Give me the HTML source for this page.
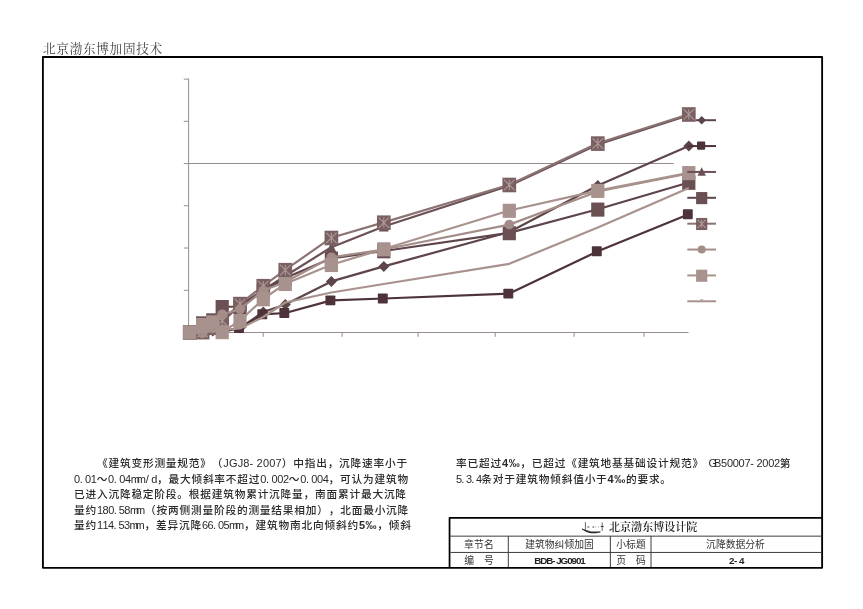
<!DOCTYPE html>
<html lang="zh-CN">
<head>
<meta charset="utf-8">
<title>沉降数据分析</title>
<style>
html,body{margin:0;padding:0;background:#fff;}
.hdr,.ln,.org,.cell{will-change:transform;}
body{width:863px;height:609px;position:relative;overflow:hidden;font-family:"Liberation Sans","Noto Sans CJK SC",sans-serif;color:#222;}
.hdr{position:absolute;left:43.4px;top:40.4px;font-family:"Liberation Serif","Noto Serif CJK SC",serif;font-size:12.6px;line-height:18px;color:#444;letter-spacing:0.72px;white-space:nowrap;}
svg.chart{position:absolute;left:0;top:0;}
.ln{position:absolute;text-spacing-trim:space-all;font-kerning:none;height:16px;line-height:16px;font-size:11px;white-space:nowrap;color:#2a2a2a;}
.ln .cj{font-size:10.7px;letter-spacing:0.79px;font-weight:500;}
.ln .la{font-size:11px;}
.ln .mm{letter-spacing:-3.2px;margin-right:3.2px;}
.ln .gb{letter-spacing:-3px;margin-left:4.5px;}
.ln b{letter-spacing:0.6px;}
.tbl{position:absolute;left:450.4px;top:518.85px;width:371px;height:48px;}
.cell{position:absolute;font-size:9.8px;line-height:14px;height:14px;text-align:center;white-space:nowrap;color:#333;}
.org{position:absolute;left:158.5px;top:1.5px;font-family:"Liberation Serif","Noto Serif CJK SC",serif;font-size:11.05px;line-height:15px;color:#222;font-weight:600;white-space:nowrap;}
</style>
</head>
<body>
<div class="hdr">北京渤东博加固技术</div>
<svg class="chart" width="863" height="609" viewBox="0 0 863 609">
<g stroke="#978d8f" stroke-width="1" fill="none">
<path d="M188.6 78.6V332.5"/>
<path d="M183.8 79.1H188.7"/>
<path d="M183.8 121.33H188.7"/>
<path d="M183.8 163.56H188.7"/>
<path d="M183.8 205.79H188.7"/>
<path d="M183.8 248.02H188.7"/>
<path d="M183.8 290.25H188.7"/>
<path d="M183.8 332.48H188.7"/>
<path d="M188.2 332.5H688.5"/>
<path d="M263.2 332.5V336.8"/>
<path d="M342.1 332.5V336.8"/>
<path d="M418.1 332.5V336.8"/>
<path d="M495.2 332.5V336.8"/>
<path d="M574.1 332.5V336.8"/>
<path d="M644 332.5V336.8"/>
</g>
<path d="M188.7 163.5H673.7" stroke="#958a8c" stroke-width="1" fill="none"/>
<g><polyline points="189.65,332.35 202.6,332.5 212.8,331 222.2,332 240,328 263.3,312 285.3,304.5 331.4,281.4 383.8,266.4 509.3,232 597.8,185.5 688.8,145.9" fill="none" stroke="#5e454a" stroke-width="2.2" stroke-linejoin="round"/><path d="M189.65 326.85L195.15 332.35L189.65 337.85L184.15 332.35Z" fill="#5e454a"/><path d="M202.6 327L208.1 332.5L202.6 338L197.1 332.5Z" fill="#5e454a"/><path d="M212.8 325.5L218.3 331L212.8 336.5L207.3 331Z" fill="#5e454a"/><path d="M222.2 326.5L227.7 332L222.2 337.5L216.7 332Z" fill="#5e454a"/><path d="M240 322.5L245.5 328L240 333.5L234.5 328Z" fill="#5e454a"/><path d="M263.3 306.5L268.8 312L263.3 317.5L257.8 312Z" fill="#5e454a"/><path d="M285.3 299L290.8 304.5L285.3 310L279.8 304.5Z" fill="#5e454a"/><path d="M331.4 275.9L336.9 281.4L331.4 286.9L325.9 281.4Z" fill="#5e454a"/><path d="M383.8 260.9L389.3 266.4L383.8 271.9L378.3 266.4Z" fill="#5e454a"/><path d="M509.3 226.5L514.8 232L509.3 237.5L503.8 232Z" fill="#5e454a"/><path d="M597.8 180L603.3 185.5L597.8 191L592.3 185.5Z" fill="#5e454a"/><path d="M688.8 140.4L694.3 145.9L688.8 151.4L683.3 145.9Z" fill="#5e454a"/></g>
<g><polyline points="189.65,332.35 202.6,332 212.8,329.5 222.2,331 240,328 263.3,314.3 285.3,313 331.4,300.4 383.8,298.5 509.3,293.6 597.8,251.3 688.8,214.2" fill="none" stroke="#4d3339" stroke-width="2.2" stroke-linejoin="round"/><rect x="183.7" y="327.4" width="9.9" height="9.9" rx="0.8" fill="#4d3339"/><rect x="196.65" y="327.05" width="9.9" height="9.9" rx="0.8" fill="#4d3339"/><rect x="206.85" y="324.55" width="9.9" height="9.9" rx="0.8" fill="#4d3339"/><rect x="216.25" y="326.05" width="9.9" height="9.9" rx="0.8" fill="#4d3339"/><rect x="234.05" y="323.05" width="9.9" height="9.9" rx="0.8" fill="#4d3339"/><rect x="257.35" y="309.35" width="9.9" height="9.9" rx="0.8" fill="#4d3339"/><rect x="279.35" y="308.05" width="9.9" height="9.9" rx="0.8" fill="#4d3339"/><rect x="325.45" y="295.45" width="9.9" height="9.9" rx="0.8" fill="#4d3339"/><rect x="377.85" y="293.55" width="9.9" height="9.9" rx="0.8" fill="#4d3339"/><rect x="503.35" y="288.65" width="9.9" height="9.9" rx="0.8" fill="#4d3339"/><rect x="591.85" y="246.35" width="9.9" height="9.9" rx="0.8" fill="#4d3339"/><rect x="682.85" y="209.25" width="9.9" height="9.9" rx="0.8" fill="#4d3339"/></g>
<g><polyline points="189.65,332.35 202.6,328 212.8,324 222.2,322 240,305 263.3,290 285.3,276 331.4,247.2 383.8,226.5 509.3,185.8 597.8,144.4 688.8,115.3" fill="none" stroke="#6b5055" stroke-width="2.2" stroke-linejoin="round"/><path d="M189.65 327.35L194.65 337.35L184.65 337.35Z" fill="#6b5055"/><path d="M202.6 323L207.6 333L197.6 333Z" fill="#6b5055"/><path d="M212.8 319L217.8 329L207.8 329Z" fill="#6b5055"/><path d="M222.2 317L227.2 327L217.2 327Z" fill="#6b5055"/><path d="M240 300L245 310L235 310Z" fill="#6b5055"/><path d="M263.3 285L268.3 295L258.3 295Z" fill="#6b5055"/><path d="M285.3 271L290.3 281L280.3 281Z" fill="#6b5055"/><path d="M331.4 242.2L336.4 252.2L326.4 252.2Z" fill="#6b5055"/><path d="M383.8 221.5L388.8 231.5L378.8 231.5Z" fill="#6b5055"/><path d="M509.3 180.8L514.3 190.8L504.3 190.8Z" fill="#6b5055"/><path d="M597.8 139.4L602.8 149.4L592.8 149.4Z" fill="#6b5055"/><path d="M688.8 110.3L693.8 120.3L683.8 120.3Z" fill="#6b5055"/></g>
<g><polyline points="189.65,332.35 202.6,323.05 212.8,320.05 222.2,306.75 240,306.75 263.3,291 285.3,278 331.4,258.3 383.8,251 509.3,232.9 597.8,209.3 688.8,182.5" fill="none" stroke="#5e454a" stroke-width="2.2" stroke-linejoin="round"/><rect x="183.05" y="325.6" width="13.2" height="14.1" fill="#6a4f53"/><rect x="196" y="316.3" width="13.2" height="14.1" fill="#6a4f53"/><rect x="206.2" y="313.3" width="13.2" height="14.1" fill="#6a4f53"/><rect x="215.6" y="300" width="13.2" height="14.1" fill="#6a4f53"/><rect x="233.4" y="300" width="13.2" height="14.1" fill="#6a4f53"/><rect x="256.7" y="284.25" width="13.2" height="14.1" fill="#6a4f53"/><rect x="278.7" y="271.25" width="13.2" height="14.1" fill="#6a4f53"/><rect x="324.8" y="251.55" width="13.2" height="14.1" fill="#6a4f53"/><rect x="377.2" y="244.25" width="13.2" height="14.1" fill="#6a4f53"/><rect x="502.7" y="226.15" width="13.2" height="14.1" fill="#6a4f53"/><rect x="591.2" y="202.55" width="13.2" height="14.1" fill="#6a4f53"/><rect x="682.2" y="175.75" width="13.2" height="14.1" fill="#6a4f53"/></g>
<g><polyline points="189.65,332.35 202.6,331.85 212.8,327.45 222.2,320.5 240,303.8 263.3,285.9 285.3,269.9 331.4,237.7 383.8,222.4 509.3,184.7 597.8,143.3 688.8,114.2" fill="none" stroke="#8b7373" stroke-width="2.2" stroke-linejoin="round"/><rect x="182.8" y="325.35" width="13.7" height="14.6" fill="#7a5f63"/><path d="M184.45 327.35L194.85 337.75M194.85 327.35L184.45 337.75M189.65 327.35L189.65 337.75" stroke="#ad9a96" stroke-width="1.1" fill="none"/><rect x="195.75" y="324.85" width="13.7" height="14.6" fill="#7a5f63"/><path d="M197.4 326.85L207.8 337.25M207.8 326.85L197.4 337.25M202.6 326.85L202.6 337.25" stroke="#ad9a96" stroke-width="1.1" fill="none"/><rect x="205.95" y="320.45" width="13.7" height="14.6" fill="#7a5f63"/><path d="M207.6 322.45L218 332.85M218 322.45L207.6 332.85M212.8 322.45L212.8 332.85" stroke="#ad9a96" stroke-width="1.1" fill="none"/><rect x="215.35" y="313.5" width="13.7" height="14.6" fill="#7a5f63"/><path d="M217 315.5L227.4 325.9M227.4 315.5L217 325.9M222.2 315.5L222.2 325.9" stroke="#ad9a96" stroke-width="1.1" fill="none"/><rect x="233.15" y="296.8" width="13.7" height="14.6" fill="#7a5f63"/><path d="M234.8 298.8L245.2 309.2M245.2 298.8L234.8 309.2M240 298.8L240 309.2" stroke="#ad9a96" stroke-width="1.1" fill="none"/><rect x="256.45" y="278.9" width="13.7" height="14.6" fill="#7a5f63"/><path d="M258.1 280.9L268.5 291.3M268.5 280.9L258.1 291.3M263.3 280.9L263.3 291.3" stroke="#ad9a96" stroke-width="1.1" fill="none"/><rect x="278.45" y="262.9" width="13.7" height="14.6" fill="#7a5f63"/><path d="M280.1 264.9L290.5 275.3M290.5 264.9L280.1 275.3M285.3 264.9L285.3 275.3" stroke="#ad9a96" stroke-width="1.1" fill="none"/><rect x="324.55" y="230.7" width="13.7" height="14.6" fill="#7a5f63"/><path d="M326.2 232.7L336.6 243.1M336.6 232.7L326.2 243.1M331.4 232.7L331.4 243.1" stroke="#ad9a96" stroke-width="1.1" fill="none"/><rect x="376.95" y="215.4" width="13.7" height="14.6" fill="#7a5f63"/><path d="M378.6 217.4L389 227.8M389 217.4L378.6 227.8M383.8 217.4L383.8 227.8" stroke="#ad9a96" stroke-width="1.1" fill="none"/><rect x="502.45" y="177.7" width="13.7" height="14.6" fill="#7a5f63"/><path d="M504.1 179.7L514.5 190.1M514.5 179.7L504.1 190.1M509.3 179.7L509.3 190.1" stroke="#ad9a96" stroke-width="1.1" fill="none"/><rect x="590.95" y="136.3" width="13.7" height="14.6" fill="#7a5f63"/><path d="M592.6 138.3L603 148.7M603 138.3L592.6 148.7M597.8 138.3L597.8 148.7" stroke="#ad9a96" stroke-width="1.1" fill="none"/><rect x="681.95" y="107.2" width="13.7" height="14.6" fill="#7a5f63"/><path d="M683.6 109.2L694 119.6M694 109.2L683.6 119.6M688.8 109.2L688.8 119.6" stroke="#ad9a96" stroke-width="1.1" fill="none"/></g>
<g><polyline points="189.65,332.35 202.6,333.4 212.8,328.3 222.2,314.3 240,309.2 263.3,290.6 285.3,282 331.4,257.3 383.8,249.5 509.3,224.6 597.8,191.5 688.8,173.5" fill="none" stroke="#a48d89" stroke-width="2.2" stroke-linejoin="round"/><circle cx="189.65" cy="332.35" r="4.9" fill="#a48d89"/><circle cx="202.6" cy="333.4" r="4.9" fill="#a48d89"/><circle cx="212.8" cy="328.3" r="4.9" fill="#a48d89"/><circle cx="222.2" cy="314.3" r="4.9" fill="#a48d89"/><circle cx="240" cy="309.2" r="4.9" fill="#a48d89"/><circle cx="263.3" cy="290.6" r="4.9" fill="#a48d89"/><circle cx="285.3" cy="282" r="4.9" fill="#a48d89"/><circle cx="331.4" cy="257.3" r="4.9" fill="#a48d89"/><circle cx="383.8" cy="249.5" r="4.9" fill="#a48d89"/><circle cx="509.3" cy="224.6" r="4.9" fill="#a48d89"/><circle cx="597.8" cy="191.5" r="4.9" fill="#a48d89"/><circle cx="688.8" cy="173.5" r="4.9" fill="#a48d89"/></g>
<g><polyline points="189.65,332.35 202.6,324.65 212.8,322.05 222.2,331.85 240,320.8 263.3,299 285.3,283.7 331.4,264.7 383.8,249 509.3,210.5 597.8,190.6 688.8,172.8" fill="none" stroke="#a8928d" stroke-width="2.2" stroke-linejoin="round"/><rect x="183.05" y="325.6" width="13.2" height="14.1" fill="#a8928d"/><rect x="196" y="317.9" width="13.2" height="14.1" fill="#a8928d"/><rect x="206.2" y="315.3" width="13.2" height="14.1" fill="#a8928d"/><rect x="215.6" y="325.1" width="13.2" height="14.1" fill="#a8928d"/><rect x="233.4" y="314.05" width="13.2" height="14.1" fill="#a8928d"/><rect x="256.7" y="292.25" width="13.2" height="14.1" fill="#a8928d"/><rect x="278.7" y="276.95" width="13.2" height="14.1" fill="#a8928d"/><rect x="324.8" y="257.95" width="13.2" height="14.1" fill="#a8928d"/><rect x="377.2" y="242.25" width="13.2" height="14.1" fill="#a8928d"/><rect x="502.7" y="203.75" width="13.2" height="14.1" fill="#a8928d"/><rect x="591.2" y="183.85" width="13.2" height="14.1" fill="#a8928d"/><rect x="682.2" y="166.05" width="13.2" height="14.1" fill="#a8928d"/></g>
<g><polyline points="189.65,332.35 202.6,332 212.8,331 222.2,330 240,328.5 263.3,317 285.3,302.5 331.4,292.5 383.8,284 509.3,263.8 597.8,227.6 688.8,188" fill="none" stroke="#a8928d" stroke-width="2.2" stroke-linejoin="round"/></g>
<g>
<path d="M695.6 120.2H716" stroke="#5e454a" stroke-width="2" fill="none"/><path d="M701.7 115.9L706 120.2L701.7 124.5L697.4 120.2Z" fill="#5e454a"/>
<path d="M687.3 146.07H716" stroke="#4d3339" stroke-width="2" fill="none"/><rect x="697" y="141.47" width="8.2" height="8.2" rx="0.8" fill="#4d3339"/>
<path d="M687.3 171.94H716" stroke="#6b5055" stroke-width="2" fill="none"/><path d="M701.7 167.24L705.9 175.64L697.5 175.64Z" fill="#6b5055"/>
<path d="M687.3 197.81H716" stroke="#5e454a" stroke-width="2" fill="none"/><rect x="696.1" y="192.06" width="11.2" height="12.1" fill="#6a4f53"/>
<path d="M687.3 223.68H716" stroke="#8b7373" stroke-width="2" fill="none"/><rect x="696.1" y="217.93" width="11.2" height="12.1" fill="#7a5f63"/><path d="M697.75 219.93L705.65 227.83M705.65 219.93L697.75 227.83M701.7 219.93L701.7 227.83" stroke="#ad9a96" stroke-width="1.1" fill="none"/>
<path d="M687.3 249.55H716" stroke="#a48d89" stroke-width="2" fill="none"/><circle cx="701.7" cy="249.55" r="4" fill="#a48d89"/>
<path d="M687.3 275.42H716" stroke="#a8928d" stroke-width="2" fill="none"/><rect x="696.1" y="269.67" width="11.2" height="12.1" fill="#a8928d"/>
<path d="M687.3 301.29H716" stroke="#a8928d" stroke-width="2" fill="none"/><path d="M700.2 299.89h3" stroke="#a8928d" stroke-width="1"/>
</g>
<rect x="42.9" y="57" width="779.22" height="510.87" fill="none" stroke="#000" stroke-width="1.85" stroke-linejoin="round"/>
<path d="M449.55 567V517.93H822" fill="none" stroke="#000" stroke-width="1.75" stroke-linejoin="round"/>
<path d="M450.3 536.15H821.5M450.3 552.45H821.5M508.3 536.15V567M610.35 536.15V567M651 536.15V567" fill="none" stroke="#3c3c3c" stroke-width="1"/>
<g fill="none" stroke-linecap="round"><path d="M582.3 529.2Q590.5 535.2 600.4 531.9Q591 533.2 582.3 529.2Z" fill="#1c1c1c" stroke="#1c1c1c" stroke-width="0.7" stroke-linejoin="round"/><path d="M585.4 522.6V529.4M602.2 522.8V530.6" stroke="#555" stroke-width="0.9"/><path d="M587.4 527h1.9M592.5 527h1.6M595.6 527h.5M598.4 527h.5M600.8 526.5h2.8" stroke="#333" stroke-width="1" stroke-linecap="butt"/></g>
</svg>
<div class="ln" id="L0" style="left:96.68px;top:455.3px"><span class="cj">《建筑变形测量规范》（</span><span class="la" style="letter-spacing:0.16px">JGJ8- 2007</span><span class="cj">）中指出，沉降速率小于</span></div>
<div class="ln" id="L1" style="left:73.7px;top:470.75px"><span class="la" style="letter-spacing:-0.37px">0. 01</span><span class="cj">～</span><span class="la" style="letter-spacing:-0.37px">0. 04<span class="mm">mm</span>/ d</span><span class="cj">，最大倾斜率不超过</span><span class="la" style="letter-spacing:-0.37px">0. 002</span><span class="cj">～</span><span class="la" style="letter-spacing:-0.37px">0. 004</span><span class="cj">，可认为建筑物</span></div>
<div class="ln" id="L2" style="left:73.7px;top:486.2px"><span class="cj">已进入沉降稳定阶段。根据建筑物累计沉降量，南面累计最大沉降</span></div>
<div class="ln" id="L3" style="left:73.7px;top:501.65px"><span class="cj">量约</span><span class="la" style="letter-spacing:-0.53px">180. 58<span class="mm">mm</span></span><span class="cj">（按两侧测量阶段的测量结果相加），北面最小沉降</span></div>
<div class="ln" id="L4" style="left:73.7px;top:517.1px"><span class="cj">量约</span><span class="la" style="letter-spacing:-0.6px">114. 53<span class="mm">mm</span></span><span class="cj">，差异沉降</span><span class="la" style="letter-spacing:-0.6px">66. 05<span class="mm">mm</span></span><span class="cj">，建筑物南北向倾斜约</span><span class="la" style="letter-spacing:-0.6px"><b>5‰</b></span><span class="cj">，倾斜</span></div>
<div class="ln" id="R0" style="left:455.8px;top:455.3px"><span class="cj">率已超过</span><span class="la" style="letter-spacing:-0.27px"><b>4‰</b></span><span class="cj">，已超过《建筑地基基础设计规范》</span><span class="la" style="letter-spacing:-0.27px"><span class="gb">G</span>B50007- 2002</span><span class="cj">第</span></div>
<div class="ln" id="R1" style="left:455.8px;top:470.75px"><span class="la" style="letter-spacing:-0.75px">5. 3. 4</span><span class="cj">条对于建筑物倾斜值小于</span><span class="la" style="letter-spacing:-0.75px"><b>4‰</b></span><span class="cj">的要求。</span></div>
<div class="tbl">
  <div class="org">北京渤东博设计院</div>
  <div class="cell" style="left:0;width:58px;top:19.6px;letter-spacing:0.2px">章节名</div>
  <div class="cell" style="left:59px;width:101px;top:19.6px">建筑物纠倾加固</div>
  <div class="cell" style="left:161px;width:40px;top:19.6px">小标题</div>
  <div class="cell" style="left:199.6px;width:171px;top:19.6px">沉降数据分析</div>
  <div class="cell" style="left:0;width:58px;top:34.8px">编&#12288;号</div>
  <div class="cell" style="left:59px;width:101px;top:34.8px;letter-spacing:-1.05px;font-weight:bold;color:#222">BDB- JG0901</div>
  <div class="cell" style="left:161px;width:40px;top:34.8px">页&#12288;码</div>
  <div class="cell" style="left:200.6px;width:171px;top:34.8px;letter-spacing:-0.5px;font-weight:bold;color:#222">2- 4</div>
</div>
</body>
</html>
